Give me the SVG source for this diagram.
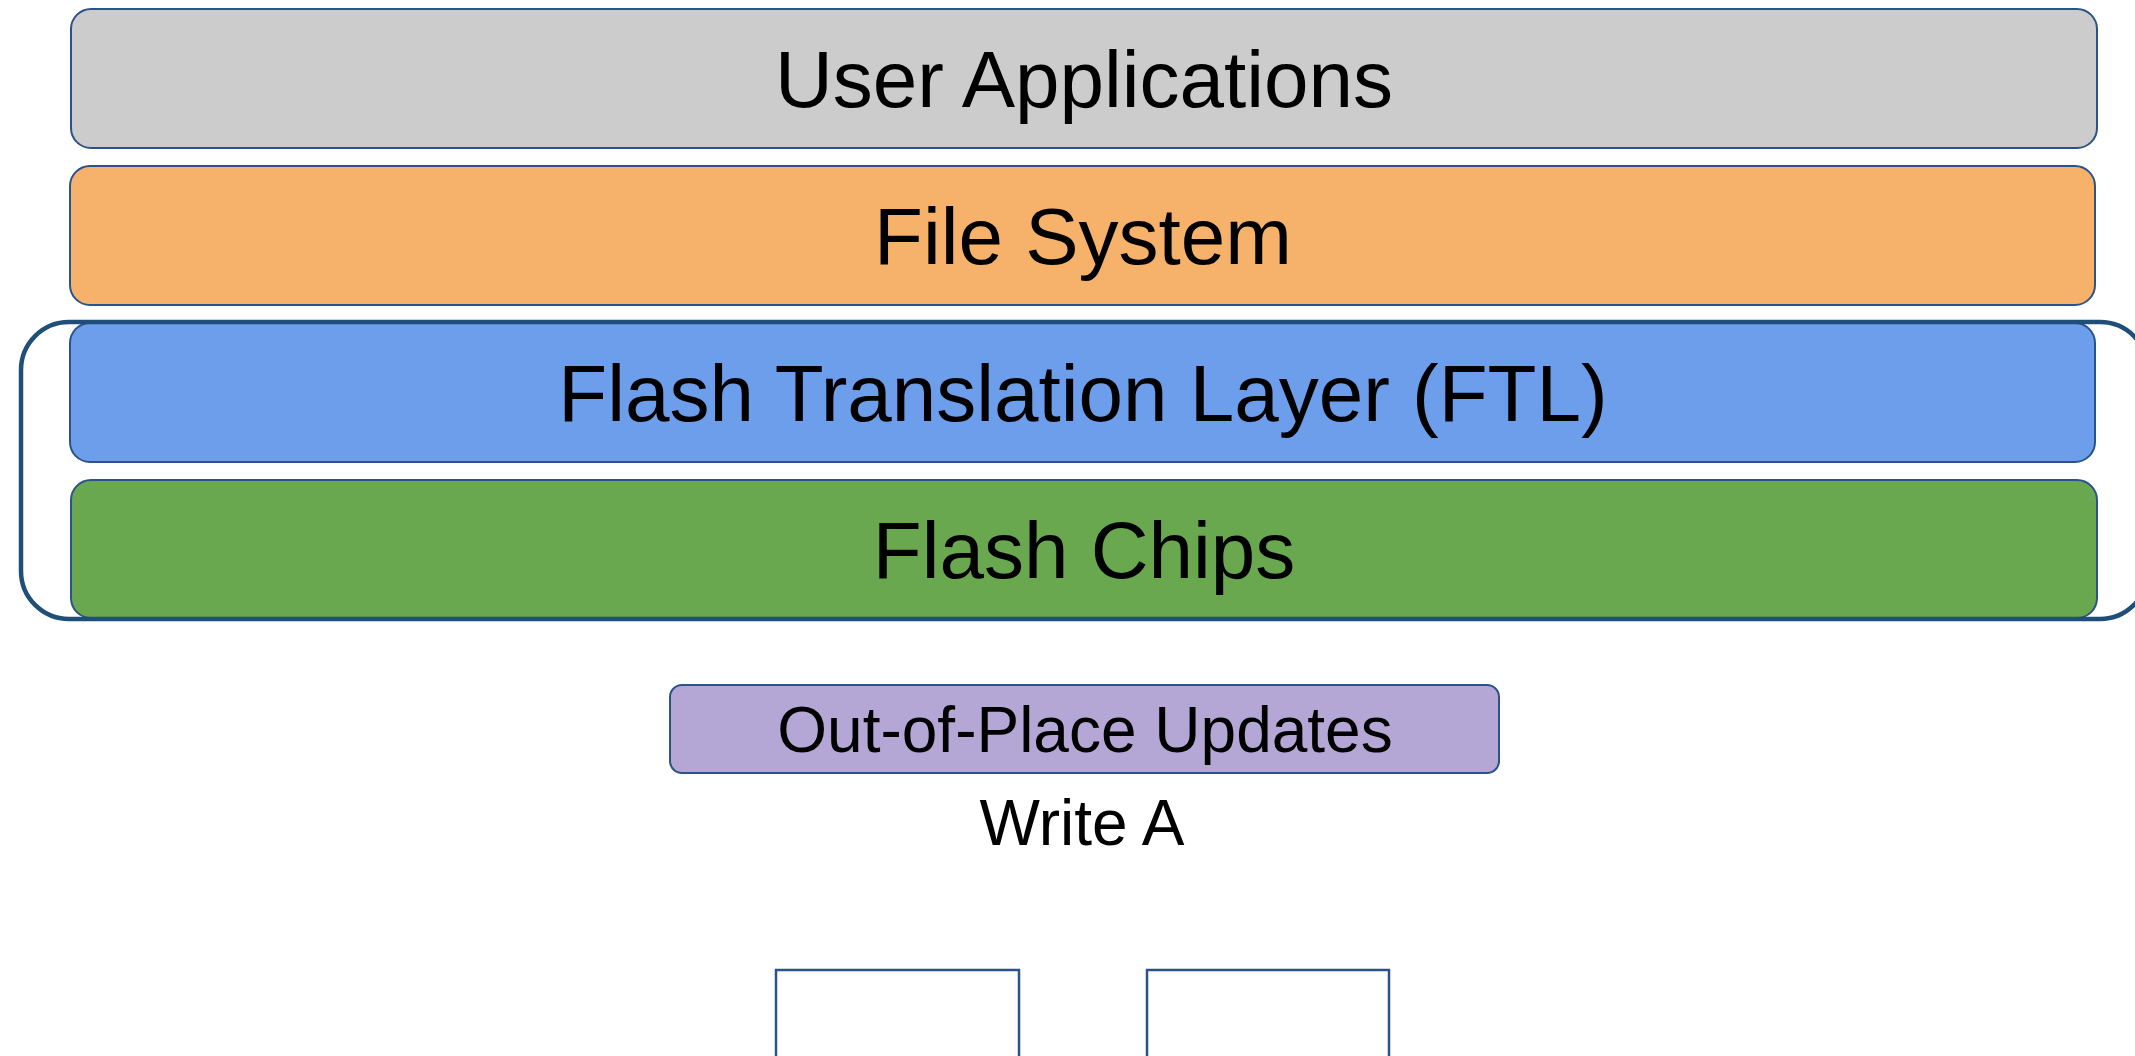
<svg xmlns="http://www.w3.org/2000/svg" width="2135" height="1056" viewBox="0 0 2135 1056">
<style>
.layer{stroke:#2B5389;stroke-width:2}
.lbl{font-family:"Liberation Sans",Arial,sans-serif;font-size:80px;fill:#000;text-anchor:middle}
.sm{font-family:"Liberation Sans",Arial,sans-serif;font-size:64px;fill:#000;text-anchor:middle}
.blk{fill:#fff;stroke:#2B5389;stroke-width:2.5}
</style>
<rect width="2135" height="1056" fill="#fff"/>
<g id="user-applications">
<rect class="layer" x="71" y="9" width="2026" height="139" rx="20" fill="#cccccc"/>
<text class="lbl" x="1084" y="107">User Applications</text>
</g>
<g id="file-system">
<rect class="layer" x="70" y="166" width="2025" height="139" rx="20" fill="#f6b26b"/>
<text class="lbl" x="1083" y="264">File System</text>
</g>
<g id="ftl">
<rect class="layer" x="70" y="323" width="2025" height="139" rx="20" fill="#6d9eeb"/>
<text class="lbl" x="1083" y="421">Flash Translation Layer (FTL)</text>
</g>
<g id="flash-chips">
<rect class="layer" x="71" y="480" width="2026" height="138" rx="20" fill="#6aa84f"/>
<text class="lbl" x="1084" y="578">Flash Chips</text>
</g>
<g id="bracket">
<rect x="21" y="322" width="2127" height="297" rx="48" fill="none" stroke="#1F4E79" stroke-width="4.5"/>
</g>
<g id="out-of-place">
<rect x="670" y="685" width="829" height="88" rx="12" fill="#b4a7d6" stroke="#2B5389" stroke-width="2"/>
<text class="sm" x="1085" y="752">Out-of-Place Updates</text>
</g>
<g id="write-a">
<text class="sm" x="1082" y="845">Write A</text>
</g>
<g id="block-1">
<rect class="blk" x="776" y="970" width="243" height="120"/>
</g>
<g id="block-2">
<rect class="blk" x="1147" y="970" width="242" height="120"/>
</g>
<g id="connectors"></g>
</svg>
